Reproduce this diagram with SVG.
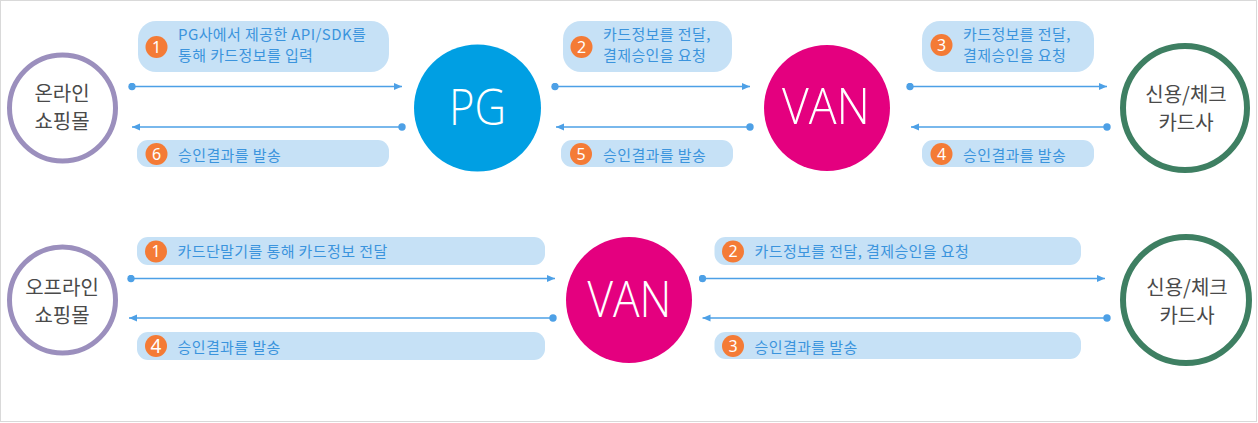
<svg xmlns="http://www.w3.org/2000/svg" width="1258" height="423" viewBox="0 0 1258 423">
<style>
.frame{fill:#fff;stroke:#d9d9d9;stroke-width:1}
.shop{fill:#fff;stroke:#9b8fbd;stroke-width:5}
.card{fill:#fff;stroke:#3e7f62;stroke-width:6}
.pg{fill:#009fe3}
.van{fill:#e4007f}
.ntext{font-family:"Noto Sans CJK KR","Noto Sans",sans-serif;font-size:20px;fill:#4a4a4a;text-anchor:middle}
.big{font-family:"Open Sans","Noto Sans","Liberation Sans",sans-serif;font-weight:300;font-size:50px;fill:#fff;text-anchor:middle}
.bubble{fill:#c6e1f6}
.num{fill:#f47b36}
.numt{font-family:"Noto Sans","Liberation Sans",sans-serif;font-size:16px;fill:#fff;text-anchor:middle}
.lt{font-family:"Noto Sans CJK KR","Noto Sans",sans-serif;font-size:15px;letter-spacing:0.4px;fill:#3b94dd}
.conn{stroke:#4da0e6;stroke-width:1.5;fill:none;marker-start:url(#dot);marker-end:url(#arr)}
</style>
<defs>
<marker id="arr" markerUnits="userSpaceOnUse" markerWidth="8" markerHeight="8" refX="8" refY="4" orient="auto" viewBox="0 0 8 8"><path d="M0,0.5 L8,4 L0,7.5 z" fill="#4da0e6"/></marker>
<marker id="dot" markerUnits="userSpaceOnUse" markerWidth="8" markerHeight="8" refX="4" refY="4" orient="auto" viewBox="0 0 8 8"><circle cx="4" cy="4" r="3.7" fill="#4da0e6"/></marker>
</defs>
<rect class="frame" x="0.5" y="0.5" width="1256" height="421"/>

<g id="connectors">
<line class="conn" x1="132" y1="86.5" x2="402" y2="86.5"/>
<line class="conn" x1="402" y1="127" x2="132" y2="127"/>
<line class="conn" x1="555" y1="86.5" x2="750" y2="86.5"/>
<line class="conn" x1="750" y1="127" x2="556" y2="127"/>
<line class="conn" x1="910" y1="86.5" x2="1107" y2="86.5"/>
<line class="conn" x1="1107" y1="127" x2="911" y2="127"/>
<line class="conn" x1="131" y1="278.5" x2="555" y2="278.5"/>
<line class="conn" x1="553" y1="318" x2="129" y2="318"/>
<line class="conn" x1="702.5" y1="278.5" x2="1105" y2="278.5"/>
<line class="conn" x1="1107" y1="318" x2="702.5" y2="318"/>
</g>

<g id="online-mall">
<circle class="shop" cx="62.5" cy="108" r="53"/>
<text class="ntext" x="62" y="101">온라인</text>
<text class="ntext" x="62" y="129">쇼핑몰</text>
</g>
<g id="pg">
<circle class="pg" cx="477.5" cy="108" r="63.5"/>
<text class="big" x="477.5" y="125" textLength="57" lengthAdjust="spacingAndGlyphs">PG</text>
</g>
<g id="van-top">
<circle class="van" cx="827" cy="108" r="63"/>
<text class="big" x="826" y="124" textLength="88" lengthAdjust="spacingAndGlyphs">VAN</text>
</g>
<g id="card-top">
<circle class="card" cx="1185" cy="108" r="62"/>
<text class="ntext" x="1186" y="102">신용/체크</text>
<text class="ntext" x="1186" y="130">카드사</text>
</g>

<g id="offline-mall">
<circle class="shop" cx="62.5" cy="300" r="53"/>
<text class="ntext" x="62" y="295">오프라인</text>
<text class="ntext" x="62" y="323">쇼핑몰</text>
</g>
<g id="van-bottom">
<circle class="van" cx="629" cy="300" r="63"/>
<text class="big" x="629.5" y="317" textLength="84" lengthAdjust="spacingAndGlyphs">VAN</text>
</g>
<g id="card-bottom">
<circle class="card" cx="1186" cy="300" r="63"/>
<text class="ntext" x="1187" y="295">신용/체크</text>
<text class="ntext" x="1187" y="323">카드사</text>
</g>

<g id="label-top-1">
<rect class="bubble" x="138" y="21" width="251" height="51" rx="18"/>
<circle class="num" cx="156.5" cy="47" r="11"/>
<text class="numt" x="156.5" y="52.5">1</text>
<text class="lt" x="178" y="40">PG사에서 제공한 API/SDK를</text>
<text class="lt" x="178" y="61">통해 카드정보를 입력</text>
</g>
<g id="label-top-6">
<rect class="bubble" x="137" y="140" width="252" height="27" rx="11"/>
<circle class="num" cx="156.5" cy="154" r="11"/>
<text class="numt" x="156.5" y="159.5">6</text>
<text class="lt" x="178" y="161">승인결과를 발송</text>
</g>
<g id="label-top-2">
<rect class="bubble" x="563" y="21" width="169" height="51" rx="18"/>
<circle class="num" cx="581.5" cy="47" r="11"/>
<text class="numt" x="581.5" y="52.5">2</text>
<text class="lt" x="603" y="40">카드정보를 전달,</text>
<text class="lt" x="603" y="61">결제승인을 요청</text>
</g>
<g id="label-top-5">
<rect class="bubble" x="561" y="140" width="172" height="27" rx="11"/>
<circle class="num" cx="581" cy="154" r="11"/>
<text class="numt" x="581" y="159.5">5</text>
<text class="lt" x="603" y="161">승인결과를 발송</text>
</g>
<g id="label-top-3">
<rect class="bubble" x="922" y="21" width="172" height="51" rx="18"/>
<circle class="num" cx="941.5" cy="45" r="11"/>
<text class="numt" x="941.5" y="50.5">3</text>
<text class="lt" x="963" y="40">카드정보를 전달,</text>
<text class="lt" x="963" y="61">결제승인을 요청</text>
</g>
<g id="label-top-4">
<rect class="bubble" x="922" y="140" width="172" height="27" rx="11"/>
<circle class="num" cx="941.5" cy="154" r="11"/>
<text class="numt" x="941.5" y="159.5">4</text>
<text class="lt" x="963" y="161">승인결과를 발송</text>
</g>

<g id="label-bottom-1">
<rect class="bubble" x="137" y="237" width="408" height="28" rx="11"/>
<circle class="num" cx="156" cy="251.5" r="11"/>
<text class="numt" x="156" y="257">1</text>
<text class="lt" x="177.5" y="257">카드단말기를 통해 카드정보 전달</text>
</g>
<g id="label-bottom-4">
<rect class="bubble" x="137" y="332" width="408" height="28" rx="11"/>
<circle class="num" cx="156" cy="346" r="11"/>
<text class="numt" x="156" y="352.5" style="font-size:19px">4</text>
<text class="lt" x="177.5" y="353">승인결과를 발송</text>
</g>
<g id="label-bottom-2">
<rect class="bubble" x="714.5" y="237" width="366.5" height="28" rx="11"/>
<circle class="num" cx="733" cy="251.5" r="11"/>
<text class="numt" x="733" y="257">2</text>
<text class="lt" x="754.5" y="257">카드정보를 전달, 결제승인을 요청</text>
</g>
<g id="label-bottom-3">
<rect class="bubble" x="714.5" y="332" width="366.5" height="27" rx="11"/>
<circle class="num" cx="733" cy="346" r="11"/>
<text class="numt" x="733" y="351.5">3</text>
<text class="lt" x="754.5" y="353">승인결과를 발송</text>
</g>
</svg>
